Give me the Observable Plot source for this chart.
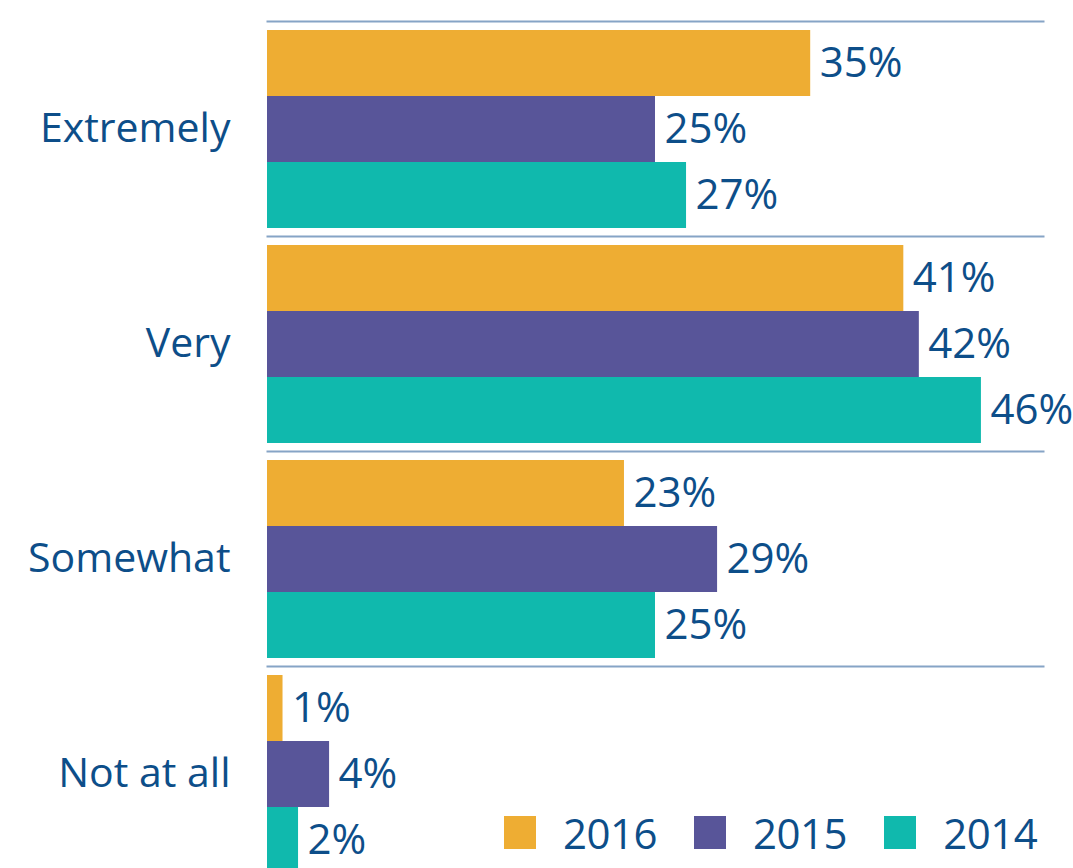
<!DOCTYPE html>
<html>
<head>
<meta charset="utf-8">
<script src="https://cdn.jsdelivr.net/npm/d3@7"></script>
<script src="https://cdn.jsdelivr.net/npm/@observablehq/plot@0.6"></script>
<style>
  html, body { margin: 0; padding: 0; background: #fff; overflow: hidden; width: 1073px; height: 868px; }
  #wrap { position: relative; width: 1073px; height: 868px; font-family: 'Open Sans', sans-serif; }
  #legend { position: absolute; left: 504px; top: 816px; display: flex; align-items: center; color: #0d4e89; font-size: 42px; letter-spacing: -0.5px; line-height: 33px; }
  .item { display: flex; align-items: center; margin-right: 37px; }
  .sw { width: 32px; height: 33px; margin-right: 27px; }
</style>
</head>
<body>
<div id="wrap"><div id="chart"></div><div id="legend"></div></div>
<script>
const categories = ["Extremely", "Very", "Somewhat", "Not at all"];
const years = ["2016", "2015", "2014"];
const v2016 = [35, 41, 23, 1];
const v2015 = [25, 42, 29, 4];
const v2014 = [27, 46, 25, 2];
const colors = ["#EEAD33", "#585599", "#10B9AD"];
const textColor = "#0d4e89";

const series = [v2016, v2015, v2014];
const data = [];
categories.forEach((c, i) => {
  years.forEach((y, j) => data.push({category: c, year: y, value: series[j][i]}));
});

const chart = Plot.plot({
  width: 1073,
  height: 881,
  marginTop: 21,
  marginBottom: 0,
  marginLeft: 267,
  marginRight: 30,
  style: {fontFamily: "'Open Sans', sans-serif", background: "white", overflow: "visible"},
  x: {domain: [0, 50], axis: null},
  y: {domain: years, paddingInner: 0, paddingOuter: 0.12, axis: null},
  fy: {domain: categories, padding: 0, label: null},
  color: {domain: years, range: colors},
  marks: [
    Plot.frame({anchor: "top", stroke: "#86a4c6", strokeWidth: 2}),
    Plot.barX(data, {x: "value", y: "year", fy: "category", fill: "year"}),
    Plot.text(data, {x: "value", y: "year", fy: "category", text: d => d.value + "%", textAnchor: "start", dx: 9, fontSize: 42, fill: textColor}),
    Plot.axisFy({anchor: "left", tickSize: 0, tickPadding: 37, fontSize: 41, color: textColor, label: null})
  ]
});
document.getElementById("chart").appendChild(chart);

const legend = document.getElementById("legend");
years.forEach((y, j) => {
  const item = document.createElement("div");
  item.className = "item";
  const sw = document.createElement("div");
  sw.className = "sw";
  sw.style.background = colors[j];
  const t = document.createElement("span");
  t.textContent = y;
  item.appendChild(sw);
  item.appendChild(t);
  legend.appendChild(item);
});
</script>
</body>
</html>
